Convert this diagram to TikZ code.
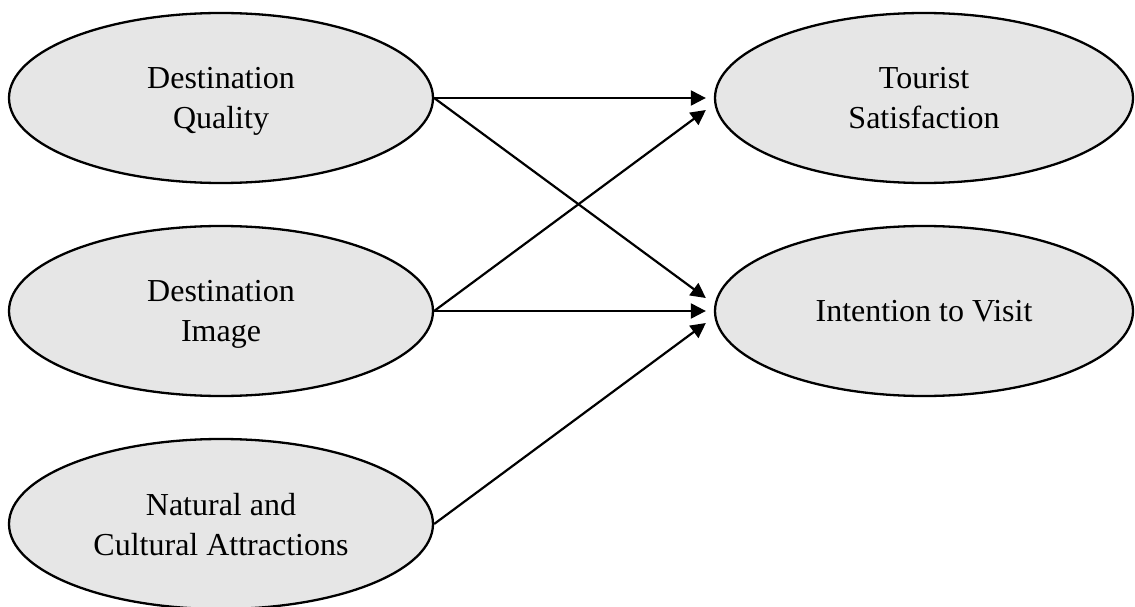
\documentclass[tikz,border=0pt]{standalone}
\usepackage{fontspec}
\setmainfont{Liberation Serif}
\usetikzlibrary{shapes.geometric,arrows.meta}
\begin{document}
\begin{tikzpicture}[x=1pt,y=-1pt,
  latent/.style={ellipse,draw=black,line width=2.3pt,fill={rgb,255:red,230;green,230;blue,230},
    inner sep=0pt,align=center,text depth=0pt,font=\fontsize{32}{40}\selectfont},
  lft/.style={latent,minimum width=424pt,minimum height=170pt},
  rgt/.style={latent,minimum width=418pt,minimum height=170pt},
  path/.style={line width=2.2pt,-{Triangle[length=15pt,width=15pt]}}]
\useasboundingbox (0,0) rectangle (1135,607);
\node[lft] (dq) at (221,98) {Destination\\Quality};
\node[lft] (di) at (221,311) {Destination\\Image};
\node[lft] (nca) at (221,524) {Natural and\\Cultural Attractions};
\node[rgt] (ts) at (924,98) {Tourist\\Satisfaction};
\node[rgt] (iv) at (924,311) {Intention to Visit};
\draw[path] (dq.east) -- ([xshift=-8pt]ts.west);
\draw[path] (dq.east) -- ([xshift=-8pt,yshift=13pt]iv.west);
\draw[path] (di.east) -- ([xshift=-8pt,yshift=-12pt]ts.west);
\draw[path] (di.east) -- ([xshift=-8pt]iv.west);
\draw[path] (nca.east) -- ([xshift=-8pt,yshift=-12pt]iv.west);
\end{tikzpicture}
\end{document}
